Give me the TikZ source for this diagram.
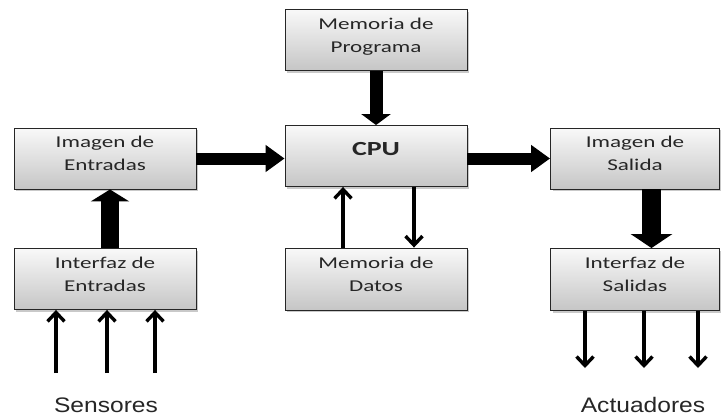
\documentclass[tikz,border=0pt]{standalone}
\usepackage{fontspec}
\newfontfamily\boxfont[FakeStretch=1.4]{Carlito}
\newfontfamily\labfont[FakeStretch=1.17]{Liberation Sans}
\usetikzlibrary{arrows.meta,shadows,calc}
\begin{document}
\begin{tikzpicture}[x=1pt,y=-1pt,
  blk/.style={draw=black!85, line width=0.9pt, top color=gray!5, bottom color=gray!45,
    minimum width=182pt, minimum height=61pt, align=center, inner sep=0pt,
    font=\boxfont\fontsize{16.5}{23}\selectfont, text=black!85, text depth=10pt,
    drop shadow={shadow xshift=2pt,shadow yshift=-2pt,opacity=0.35,fill=black!60}},
  fat/.style n args={3}{line width=#1, -{Triangle[length=#3,width=#2]}},
  thinar/.style={line width=3.4pt, -{Straight Barb[length=9pt,width=17pt,line width=3.4pt]}},
  lab/.style={font=\labfont\fontsize{21}{24}\selectfont, text=black!85, inner sep=0pt, anchor=base}]
\useasboundingbox (0,0) rectangle (721,416);
\fill[white] (0,0) rectangle (721,416);
% boxes
\node[blk] (prog) at (376,40) {Memoria de\\Programa};
\node[blk, font=\boxfont\bfseries\fontsize{20}{24}\selectfont, text depth=14pt] (cpu) at (376,156) {CPU};
\node[blk, minimum height=62pt] (datos) at (376,279) {Memoria de\\Datos};
\node[blk] (imgE) at (105,158.5) {Imagen de\\Entradas};
\node[blk] (intE) at (105,279) {Interfaz de\\Entradas};
\node[blk, minimum width=169pt] (imgS) at (635,158.5) {Imagen de\\Salida};
\node[blk, minimum width=169pt, minimum height=62pt] (intS) at (635,279.5) {Interfaz de\\Salidas};
% labels
\node[lab] (sens) at (106,412) {Sensores};
\node[lab] (act) at (643,412) {Actuadores};
% thick arrows
\draw[fat={12pt}{26pt}{19pt}] (imgE.east) -- (imgE.east -| cpu.west);
\draw[fat={12pt}{26pt}{19pt}] (cpu.east |- imgS.west) -- (imgS.west);
\draw[fat={13pt}{29pt}{11pt}] (prog.south) -- (cpu.north);
\draw[fat={18pt}{38pt}{12pt}] ($(intE.north)+(5,0)$) -- ($(imgE.south)+(5,0)$);
\draw[fat={19pt}{41pt}{14pt}] ($(imgS.south)+(16.5,0)$) -- ($(intS.north)+(16.5,0)$);
% thin arrows CPU <-> datos
\draw[thinar] ($(datos.north)+(-33,0)$) -- ($(cpu.south)+(-33,0)$);
\draw[thinar] ($(cpu.south)+(38,0)$) -- ($(datos.north)+(38,0)$);
% sensors
\coordinate (s1) at (56,373);
\coordinate (s2) at (107,373);
\coordinate (s3) at (155,373);
\foreach \s in {s1,s2,s3} \draw[thinar] (\s) -- (\s |- intE.south);
% actuators
\coordinate (a1) at (585,368);
\coordinate (a2) at (644,368);
\coordinate (a3) at (698,368);
\foreach \a in {a1,a2,a3} \draw[thinar] (\a |- intS.south) -- (\a);
\end{tikzpicture}
\end{document}
